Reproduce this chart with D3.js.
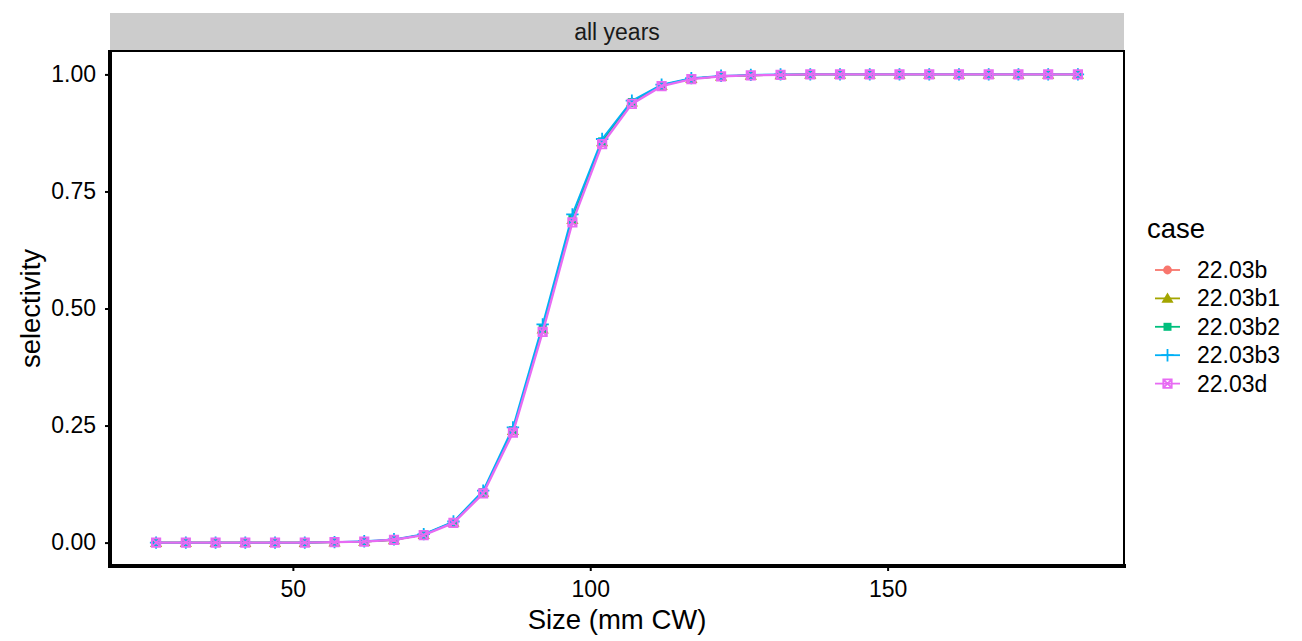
<!DOCTYPE html>
<html><head><meta charset="utf-8">
<script src="https://cdn.jsdelivr.net/npm/d3@7"></script>
<style>body{margin:0;background:#fff;} text{font-family:"Liberation Sans",Arial,sans-serif;}</style>
</head><body><svg id="c" width="1302" height="641"></svg>
<script>
const sizes = [27,32,37,42,47,52,57,62,67,72,77,82,87,92,97,102,107,112,117,122,127,132,137,142,147,152,157,162,167,172,177,182];
const cases = ["22.03b","22.03b1","22.03b2","22.03b3","22.03d"];
const colors = ["#F8766D","#A3A500","#00BF7D","#00B0F6","#E76BF3"];
const sel_b  = [0,0,0,0,0,0,0.001,0.002,0.006,0.017,0.043,0.107,0.238,0.455,0.689,0.855,0.940,0.976,0.991,0.996,0.998,0.999,1,1,1,1,1,1,1,1,1,1];
const sel_b1 = [0,0,0,0,0,0,0.001,0.002,0.006,0.017,0.043,0.107,0.239,0.456,0.690,0.856,0.941,0.976,0.991,0.996,0.998,0.999,1,1,1,1,1,1,1,1,1,1];
const sel_b2 = [0,0,0,0,0,0,0.001,0.002,0.006,0.017,0.044,0.108,0.240,0.457,0.691,0.857,0.941,0.977,0.991,0.996,0.998,0.999,1,1,1,1,1,1,1,1,1,1];
const sel_b3 = [0,0,0,0,0,0,0.001,0.003,0.007,0.018,0.045,0.111,0.246,0.466,0.701,0.862,0.944,0.978,0.992,0.997,0.999,1,1,1,1,1,1,1,1,1,1,1];
const sel_d  = [0,0,0,0,0,0,0.001,0.002,0.006,0.016,0.042,0.105,0.235,0.450,0.684,0.851,0.937,0.975,0.990,0.996,0.998,0.999,1,1,1,1,1,1,1,1,1,1];
const series = [sel_b, sel_b1, sel_b2, sel_b3, sel_d];
const xTicks = [50,100,150];
const yTicks = [0,0.25,0.5,0.75,1];

const svg = d3.select("#c");
const L=110, R=1124, T=51, B=566;
const x = d3.scaleLinear().domain([19.25,189.75]).range([L,R]);
const y = d3.scaleLinear().domain([-0.05,1.05]).range([B,T]);
const FS = 23, FT = 27.5;

// strip
svg.append("rect").attr("x",L).attr("y",13).attr("width",R-L).attr("height",T-13).attr("fill","#cccccc");
svg.append("text").attr("x",(L+R)/2).attr("y",40).attr("text-anchor","middle").attr("font-size",FS).attr("fill","#1a1a1a").text("all years");

// panel border
svg.append("rect").attr("x",L).attr("y",T).attr("width",R-L).attr("height",B-T).attr("fill","none").attr("stroke","#000").attr("stroke-width",2);

// axes
const xa = svg.append("g").attr("transform",`translate(0,${B})`).call(d3.axisBottom(x).tickValues(xTicks).tickSize(5).tickPadding(10));
const ya = svg.append("g").attr("transform",`translate(${L},0)`).call(d3.axisLeft(y).tickValues(yTicks).tickFormat(d3.format(".2f")).tickSize(5).tickPadding(9));
[xa,ya].forEach(a=>{a.attr("font-size",FS).attr("font-family","Liberation Sans, Arial, sans-serif");
  a.select(".domain").attr("stroke","#000").attr("stroke-width",4);
  a.selectAll(".tick line").attr("stroke","#000").attr("stroke-width",2);
  a.selectAll(".tick text").attr("font-size",FS).attr("fill","#000");});
xa.select(".domain").attr("d",`M${L-2},0H${R+2}`);
ya.select(".domain").attr("d",`M0,${T-1}V${B+2}`);

svg.append("text").attr("x",(L+R)/2).attr("y",629).attr("text-anchor","middle").attr("font-size",FT).text("Size (mm CW)");
svg.append("text").attr("transform",`translate(40,${(T+B)/2}) rotate(-90)`).attr("text-anchor","middle").attr("font-size",FT).text("selectivity");

// shapes
function drawShape(g, i, cx, cy, col){
  if(i===0){ g.append("circle").attr("cx",cx).attr("cy",cy).attr("r",4.4).attr("fill",col); }
  else if(i===1){ const s=5.8; g.append("path").attr("d",`M${cx},${cy-s}L${cx+s*1.05},${cy+s*0.75}L${cx-s*1.05},${cy+s*0.75}Z`).attr("fill",col); }
  else if(i===2){ g.append("rect").attr("x",cx-4).attr("y",cy-4).attr("width",8).attr("height",8).attr("fill",col); }
  else if(i===3){ const s=6.2; g.append("path").attr("d",`M${cx-s},${cy}H${cx+s}M${cx},${cy-s}V${cy+s}`).attr("stroke",col).attr("stroke-width",1.8).attr("fill","none"); }
  else { const s=4.2; g.append("path").attr("d",`M${cx-s},${cy-s}H${cx+s}V${cy+s}H${cx-s}ZM${cx-s},${cy-s}L${cx+s},${cy+s}M${cx+s},${cy-s}L${cx-s},${cy+s}`).attr("stroke",col).attr("stroke-width",1.8).attr("fill","none"); }
}

const line = d3.line().x(d=>x(d[0])).y(d=>y(d[1]));
const plot = svg.append("g");
series.forEach((vals,i)=>{
  const pts = sizes.map((s,j)=>[s,vals[j]]);
  const g = plot.append("g");
  g.append("path").datum(pts).attr("d",line).attr("fill","none").attr("stroke",colors[i]).attr("stroke-width",i===4?2.4:1.8);
  pts.forEach(p=>drawShape(g,i,x(p[0]),y(p[1]),colors[i]));
});

// legend
const lg = svg.append("g");
lg.append("text").attr("x",1147).attr("y",238).attr("font-size",FT).text("case");
cases.forEach((c,i)=>{
  const yy = 270 + i*28.4;
  lg.append("line").attr("x1",1155).attr("x2",1180).attr("y1",yy).attr("y2",yy).attr("stroke",colors[i]).attr("stroke-width",1.8);
  drawShape(lg,i,1167.5,yy,colors[i]);
  lg.append("text").attr("x",1197).attr("y",yy+8).attr("font-size",FS).text(c);
});
</script></body></html>
